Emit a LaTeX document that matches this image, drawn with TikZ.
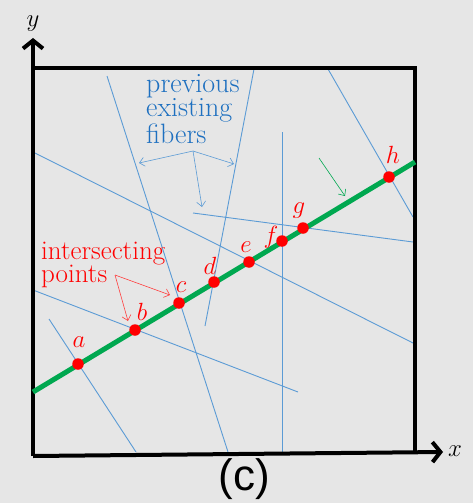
\documentclass[tikz,border=0pt]{standalone}
\usepackage{fontspec}
\newfontfamily\sansf{Liberation Sans}
\usetikzlibrary{arrows.meta}
\definecolor{bg}{RGB}{230,230,230}
\definecolor{fiber}{RGB}{91,155,213}
\definecolor{fibertext}{RGB}{30,112,192}
\definecolor{ptred}{RGB}{255,0,0}
\definecolor{grn}{RGB}{0,168,80}
\begin{document}
\begin{tikzpicture}[x=1pt,y=-1pt,
  fiberline/.style={fiber, line width=0.9pt},
  pt/.style={circle, fill=ptred, inner sep=0pt, minimum size=11.5pt},
  ptlabel/.style={text=ptred, font=\fontsize{24}{24}\selectfont, inner sep=0pt},
  note/.style={-{Straight Barb[length=5pt,width=9pt]}, line width=0.6pt},
  axisline/.style={line width=4pt, -{Straight Barb[length=8pt,width=20pt]}},
  frameline/.style={line width=4pt, line cap=rect},
  axislabel/.style={font=\fontsize{33}{33}\selectfont, inner sep=0pt}
]
\fill[bg] (0,0) rectangle (473,503);
\useasboundingbox (0,0) rectangle (473,503);

% fibers
\coordinate (f1s) at (107,76);  \coordinate (f1e) at (228,452);
\coordinate (f2s) at (254,69);  \coordinate (f2e) at (205,326);
\coordinate (f3s) at (328,69);  \coordinate (f3e) at (413,217);
\coordinate (f4s) at (282,132); \coordinate (f4e) at (282,452);
\coordinate (f5s) at (193,213); \coordinate (f5e) at (413,242);
\coordinate (f6s) at (33,152);  \coordinate (f6e) at (413,343);
\coordinate (f7s) at (33,290);  \coordinate (f7e) at (298,392);
\coordinate (f8s) at (49,319);  \coordinate (f8e) at (136,452);
\foreach \i in {1,...,8} { \draw[fiberline] (f\i s) -- (f\i e); }

% frame and axes
\coordinate (origin) at (33,456);
\coordinate (ytip) at (33,38);
\coordinate (tl) at (33,68);
\coordinate (tr) at (415,68);
\coordinate (br) at (415,452);
\coordinate (xtip) at (443,452);
\draw[frameline] (tl) -- (tr) -- (br);
\draw[axisline] (origin) -- (ytip);
\draw[axisline] (origin) -- (xtip);
\node[axislabel] (ylab) at (33,24) {$y$};
\node[axislabel] (xlab) at (455,451) {$x$};
\node[font=\sansf\fontsize{44}{44}\selectfont, inner sep=0pt, anchor=base] (cap) at (244,490) {(c)};

% green new fiber
\coordinate (gs) at (33,392);
\coordinate (ge) at (415,162);
\draw[grn, line width=5pt] (gs) -- (ge);

% intersection points
\node[pt] (a) at (78,364) {};
\node[pt] (b) at (135,330) {};
\node[pt] (c) at (179,303) {};
\node[pt] (d) at (214,282) {};
\node[pt] (e) at (249,262) {};
\node[pt] (f) at (282,241) {};
\node[pt] (g) at (303,228) {};
\node[pt] (h) at (389,177) {};
\node[ptlabel] (la) at (79,342) {$a$};
\node[ptlabel] (lb) at (142,312) {$b$};
\node[ptlabel] (lc) at (181,287) {$c$};
\node[ptlabel] (ld) at (210,266) {$d$};
\node[ptlabel] (le) at (246,247) {$e$};
\node[ptlabel] (lf) at (271,237) {$f$};
\node[ptlabel] (lg) at (299,211) {$g$};
\node[ptlabel] (lh) at (393,155) {$h$};

% annotations
\node[text=fibertext, font=\fontsize{28}{20.5}\selectfont, align=left, anchor=base west, inner sep=0pt] (fibtxt) at (146,143) {previous\\existing\\fibers};
\coordinate (fibsrc) at (193,151);
\coordinate (ft1) at (139,163);
\coordinate (ft2) at (234,164);
\coordinate (ft3) at (202,207);
\draw[note, fiber] (fibsrc) -- (ft1);
\draw[note, fiber] (fibsrc) -- (ft2);
\draw[note, fiber] (fibsrc) -- (ft3);

\node[text=ptred, font=\fontsize{27}{23}\selectfont, align=left, anchor=base west, inner sep=0pt] (pttxt) at (41,282) {intersecting\\points};
\coordinate (ptsrc) at (115,275);
\coordinate (pt1) at (128,321);
\coordinate (pt2) at (170,295);
\draw[note, ptred!75] (ptsrc) -- (pt1);
\draw[note, ptred!75] (ptsrc) -- (pt2);

\coordinate (gA) at (319,158);
\coordinate (gB) at (345,196);
\draw[note, grn] (gA) -- (gB);
\end{tikzpicture}
\end{document}
